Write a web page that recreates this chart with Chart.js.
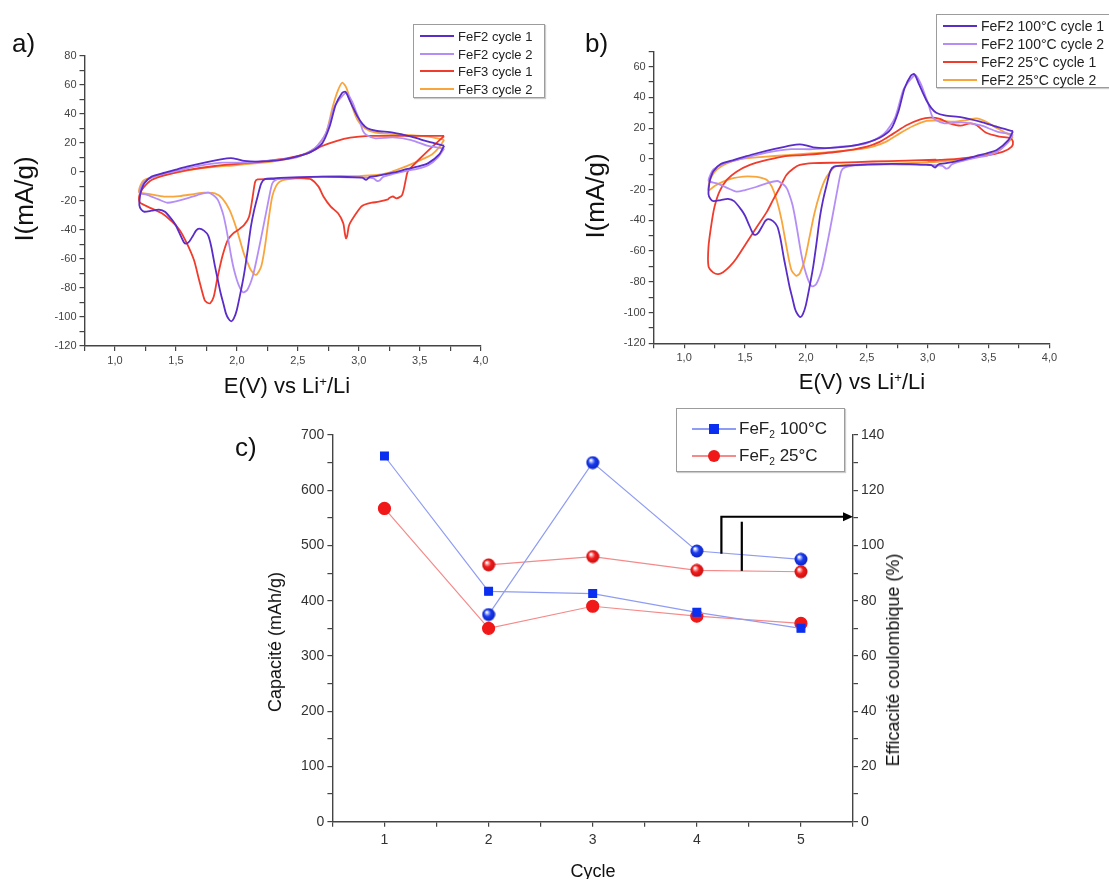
<!DOCTYPE html>
<html>
<head>
<meta charset="utf-8">
<script src="https://cdn.jsdelivr.net/npm/chart.js@4.4.0/dist/chart.umd.min.js"></script>
<style>
  body { margin: 0; background: #fff; font-family: "Liberation Sans", Arial, sans-serif; }
  #page { position: relative; width: 1109px; height: 879px; overflow: hidden; }
  canvas { position: absolute; }
  .txt { position: absolute; color: #111; white-space: nowrap; line-height: 1; }
  .mid { transform: translate(-50%, -50%); }
  .rot { transform: translate(-50%, -50%) rotate(-90deg); }
  .legend { position: absolute; border: 1px solid #9c9c9c; background: #fff; box-shadow: 1px 1px 1px #ccc; }
  .legend .ln { position: absolute; height: 2px; }
  .legend .tx { position: absolute; color: #222; white-space: nowrap; line-height: 1; transform: translateY(-50%); }
  sub { font-size: 0.6em; vertical-align: -0.35em; }
  sup { font-size: 0.6em; vertical-align: 0.6em; }
</style>
</head>
<body>
<div id="page">
  <canvas id="cvA" width="560" height="400" style="left:0;top:0"></canvas>
  <canvas id="cvB" width="549" height="400" style="left:560px;top:0"></canvas>
  <canvas id="capC" width="640" height="479" style="left:260px;top:400px"></canvas>

  <div class="txt" style="left:12px;top:30px;font-size:26px">a)</div>
  <div class="txt rot" style="left:24px;top:199px;font-size:26px">I(mA/g)</div>
  <div class="txt mid" style="left:287px;top:386px;font-size:22px">E(V) vs Li<sup>+</sup>/Li</div>

  <div class="txt" style="left:585px;top:30px;font-size:26px">b)</div>
  <div class="txt rot" style="left:595px;top:196px;font-size:26px">I(mA/g)</div>
  <div class="txt mid" style="left:862px;top:382px;font-size:22px">E(V) vs Li<sup>+</sup>/Li</div>

  <div class="txt" style="left:235px;top:434px;font-size:26px">c)</div>
  <div class="txt rot" style="left:275px;top:642px;font-size:18px">Capacité (mAh/g)</div>
  <div class="txt rot" style="left:893px;top:660px;font-size:18px">Efficacité coulombique (%)</div>
  <div class="txt mid" style="left:593px;top:871px;font-size:18px">Cycle</div>

  <div class="legend" id="legA" style="left:413px;top:24px;width:130px;height:72px"></div>
  <div class="legend" id="legB" style="left:936px;top:14px;width:176px;height:72px"></div>
  <div class="legend" style="left:676px;top:408px;width:167px;height:62px">
    <div class="ln" style="left:15px;top:19px;width:44px;background:#8f9cf3;height:1.5px"></div>
    <div style="position:absolute;left:32px;top:15px;width:10px;height:10px;background:#0b2ff0"></div>
    <div class="tx" style="left:62px;top:21px;font-size:17px">FeF<sub>2</sub> 100°C</div>
    <div class="ln" style="left:15px;top:46px;width:44px;background:#f58a8a;height:1.5px"></div>
    <div style="position:absolute;left:31px;top:41px;width:12px;height:12px;border-radius:50%;background:#f01818"></div>
    <div class="tx" style="left:62px;top:48px;font-size:17px">FeF<sub>2</sub> 25°C</div>
  </div>
</div>

<script>
// ----- data: cyclic voltammetry, pairs of [E (V), I (mA/g)] -----
const fef2Cycle1 = [
  [3.70, 18], [3.66, 12], [3.57, 6], [3.48, 3.5], [3.40, 2], [3.28, -0.6], [3.14, -3], [3.09, -3.5],
  [3.06, -5.6], [3.03, -4], [2.99, -3.8], [2.85, -3.4], [2.70, -3.3], [2.55, -3.6], [2.41, -4], [2.30, -4.5],
  [2.23, -5], [2.20, -8], [2.17, -17], [2.14, -27], [2.115, -37.8], [2.085, -56], [2.06, -70], [2.04, -79],
  [2.0, -95], [1.975, -101], [1.954, -103], [1.93, -101], [1.91, -97.5], [1.89, -91], [1.867, -83.7],
  [1.84, -73], [1.82, -65], [1.79, -51.6], [1.765, -44], [1.73, -40.5], [1.69, -39.2], [1.665, -40.5],
  [1.64, -44], [1.61, -48], [1.585, -49.5], [1.565, -48.5], [1.53, -42.4], [1.50, -37], [1.47, -33.2],
  [1.41, -27.5], [1.36, -26], [1.30, -26.8], [1.24, -27.5], [1.215, -26], [1.20, -23],
  [1.205, -17], [1.215, -13], [1.24, -8], [1.30, -3.3], [1.41, -0.6], [1.50, 1.5], [1.59, 3.5],
  [1.735, 6.3], [1.88, 8.8], [1.95, 9.4], [2.0, 8.8], [2.06, 7.5], [2.17, 7], [2.35, 8.1], [2.49, 10.4],
  [2.61, 13.9], [2.70, 19.6], [2.76, 31], [2.81, 46], [2.86, 54], [2.89, 55.2], [2.93, 48.3], [2.96, 43],
  [2.99, 38], [3.03, 33], [3.07, 30], [3.14, 28.3], [3.28, 27], [3.43, 24.2], [3.57, 20.8], [3.70, 18]
];
const fef2Cycle2 = [
  [3.70, 16], [3.65, 10], [3.57, 4.5], [3.48, 2], [3.40, 0.8], [3.28, -1.5], [3.20, -3.5], [3.17, -6],
  [3.15, -6.3], [3.12, -4.5], [3.05, -4], [2.90, -3.8], [2.70, -3.5], [2.50, -3.8], [2.40, -4.2],
  [2.32, -5.5], [2.29, -8], [2.26, -19.4], [2.217, -37.8], [2.173, -56], [2.13, -72], [2.085, -81.4],
  [2.05, -83], [2.025, -80], [2.0, -74.5], [1.975, -67], [1.954, -58.5], [1.93, -47], [1.91, -37.8],
  [1.89, -30], [1.867, -24], [1.845, -19.5], [1.82, -17], [1.765, -14.4], [1.677, -16], [1.59, -18.3],
  [1.50, -20.3], [1.43, -21.3], [1.356, -19], [1.27, -16], [1.21, -14.8], [1.20, -14],
  [1.216, -10.2], [1.24, -6.8], [1.33, -2.9], [1.47, 0], [1.677, 4], [1.88, 6.3], [2.056, 6.3],
  [2.26, 7.7], [2.49, 10], [2.64, 16.2], [2.73, 26.5], [2.80, 44.9], [2.86, 51.8], [2.90, 54.5],
  [2.946, 48.3], [2.98, 41], [3.005, 35.7], [3.035, 28], [3.063, 25.4], [3.136, 23.1], [3.28, 23.7],
  [3.43, 21.9], [3.57, 17.8], [3.70, 16]
];
const fef3Cycle1 = [
  [3.70, 24.7], [3.60, 17], [3.50, 9], [3.43, 3], [3.40, 0], [3.385, -5.6], [3.355, -16], [3.31, -18.3],
  [3.28, -17], [3.25, -18], [3.24, -19], [3.165, -20.6], [3.107, -21.3], [3.05, -22.5], [3.02, -24],
  [2.96, -30.9], [2.93, -35], [2.917, -37.8], [2.905, -44], [2.895, -45.8], [2.885, -42], [2.873, -35.5],
  [2.83, -28.6], [2.77, -24], [2.71, -17], [2.67, -10.2], [2.61, -5.2], [2.55, -4.5], [2.40, -4.5],
  [2.29, -5], [2.17, -5.2], [2.15, -6.8], [2.13, -17], [2.10, -30.9], [2.06, -36.6], [2.01, -40.1],
  [1.97, -42.4], [1.925, -47], [1.88, -58.5], [1.837, -74.5], [1.81, -86], [1.78, -90.6], [1.755, -90],
  [1.735, -88.3], [1.69, -74.5], [1.648, -60.8], [1.59, -49.3], [1.53, -40], [1.47, -34.4],
  [1.385, -28.6], [1.30, -25.2], [1.24, -22.9], [1.20, -20.6],
  [1.205, -14.8], [1.24, -10.2], [1.30, -5.6], [1.414, -2.2], [1.59, 1.2], [1.82, 4], [2.115, 6.3],
  [2.406, 9.3], [2.58, 12.7], [2.70, 17.8], [2.815, 21.2], [2.93, 23.5], [3.08, 24.7], [3.28, 24.7],
  [3.70, 24.7]
];
const fef3Cycle2 = [
  [3.70, 22], [3.66, 17], [3.60, 12], [3.45, 6], [3.35, 2.5], [3.25, -0.5], [3.15, -2.2], [3.0, -2.9],
  [2.70, -3.3], [2.41, -5.2], [2.35, -6.8], [2.32, -10], [2.29, -17], [2.26, -33], [2.23, -51.6],
  [2.20, -65], [2.158, -71], [2.115, -67.6], [2.085, -62], [2.056, -56], [2.0, -40], [1.94, -26.3],
  [1.88, -18.3], [1.82, -14.8], [1.735, -14.4], [1.648, -15.3], [1.53, -16.7], [1.414, -17.1],
  [1.33, -16], [1.24, -14.8], [1.20, -14.4],
  [1.205, -10.2], [1.24, -5.6], [1.33, -3.3], [1.47, -1.1], [1.70, 2.4], [2.0, 4.7], [2.29, 7],
  [2.49, 10.4], [2.64, 16.2], [2.73, 26.5], [2.786, 44.9], [2.83, 56.3], [2.865, 61.5], [2.90, 57.5],
  [2.946, 44.9], [2.99, 35.7], [3.05, 30], [3.136, 27], [3.28, 26], [3.43, 25.3], [3.57, 24.2], [3.70, 22]
];
const fef2RtCycle1 = [
  [3.07, -0.5], [2.83, -1.1], [2.55, -1.7], [2.28, -2.4], [2.06, -2.8], [1.95, -3.9], [1.90, -6.1],
  [1.84, -10.5], [1.79, -18], [1.73, -26.7], [1.68, -34.3], [1.59, -45.1], [1.51, -54.9], [1.43, -64.6],
  [1.375, -70], [1.32, -73.7], [1.28, -75], [1.24, -74], [1.20, -70],
  [1.20, -57], [1.225, -41.9], [1.25, -31], [1.29, -21.3], [1.35, -13.7], [1.43, -8.3], [1.54, -3.9],
  [1.68, -0.7], [1.81, 1.5], [2.0, 2.6], [2.28, 4.8], [2.50, 8], [2.61, 11.2], [2.72, 16.6], [2.83, 22],
  [2.94, 25.7], [3.02, 26.8], [3.10, 26], [3.18, 23.1], [3.27, 21.6], [3.35, 23.1], [3.40, 22],
  [3.48, 17], [3.59, 14.5], [3.68, 13.4], [3.70, 11.2], [3.69, 8], [3.62, 4.7], [3.51, 2.6],
  [3.37, 1.1], [3.24, 0], [3.10, -0.7], [3.0, -1.2]
];
const fef2RtCycle2 = [
  [3.70, 14.5], [3.68, 12.3], [3.59, 5.8], [3.48, 2.6], [3.32, 0.4], [3.10, -1.7], [2.83, -2.8],
  [2.55, -3.3], [2.33, -3.9], [2.24, -5], [2.20, -8.3], [2.156, -13.7], [2.115, -22.4], [2.07, -35.4],
  [2.03, -50.6], [1.99, -65.7], [1.95, -74.4], [1.92, -76.1], [1.88, -72.2], [1.84, -57], [1.80, -39.7],
  [1.76, -26.7], [1.72, -18], [1.68, -13.7], [1.62, -12], [1.567, -11.5], [1.485, -11.5], [1.403, -12.6],
  [1.32, -14.8], [1.25, -17.6], [1.20, -20.6],
  [1.205, -15.9], [1.225, -11.5], [1.27, -6.8], [1.35, -2.9], [1.46, -0.2], [1.62, 1.1], [1.87, 2.6],
  [2.14, 4.1], [2.42, 6.2], [2.55, 8], [2.66, 11.2], [2.77, 16.6], [2.88, 21.4], [2.99, 24.7],
  [3.10, 24.9], [3.21, 24.2], [3.32, 25.3], [3.40, 26.4], [3.48, 24.2], [3.57, 19.9], [3.65, 16.6],
  [3.70, 14.5]
];

// ----- data: cycling -----
const cycles = [1, 2, 3, 4, 5];
const capa100 = [662, 417, 413, 379, 350];
const capa25 = [567, 350, 390, 372, 359];
const effi100 = [null, 75, 130, 98, 95];
const effi25 = [null, 93, 96, 91, 90.5];

// annotation bracket (cycle, capacity units)
const arrowPath = [[4.236, 485], [4.236, 552], [5.5, 552]];
const markLine = [[4.432, 543], [4.432, 454]];

// legend labels
const legendA = ['FeF2 cycle 1', 'FeF2 cycle 2', 'FeF3 cycle 1', 'FeF3 cycle 2'];
const legendB = ['FeF2 100°C cycle 1', 'FeF2 100°C cycle 2', 'FeF2 25°C cycle 1', 'FeF2 25°C cycle 2'];
const cvColors = ['#5a2cc8', '#b48ef6', '#f03c2c', '#f8a53c'];

Chart.defaults.font.family = '"Liberation Sans", Arial, sans-serif';
Chart.defaults.animation = false;

const xy = pairs => pairs.map(p => ({ x: p[0], y: p[1] }));
const isMult = (v, m) => Math.abs(v / m - Math.round(v / m)) < 1e-6;

function buildLegend(id, labels, rowTops, fontSize) {
  const box = document.getElementById(id);
  labels.forEach((t, i) => {
    const ln = document.createElement('div');
    ln.className = 'ln';
    ln.style.cssText = `left:6px;top:${rowTops[i] - 1}px;width:34px;background:${cvColors[i]}`;
    box.appendChild(ln);
    const tx = document.createElement('div');
    tx.className = 'tx';
    tx.style.cssText = `left:44px;top:${rowTops[i]}px;font-size:${fontSize}px`;
    tx.textContent = t;
    box.appendChild(tx);
  });
}
buildLegend('legA', legendA, [11, 28.5, 46, 63.5], 13);
buildLegend('legB', legendB, [11, 28.7, 46.7, 64.7], 14);

function axisBase(extra) {
  return Object.assign({
    type: 'linear',
    grid: { drawOnChartArea: false, tickLength: 5, color: '#444', lineWidth: 1.2 },
    border: { color: '#444', width: 1.4 }
  }, extra);
}

function cvChart(id, curves, yMax, pad) {
  const ctx = document.getElementById(id).getContext('2d');
  return new Chart(ctx, {
    type: 'line',
    data: {
      datasets: curves.map((c, i) => ({
        data: xy(c),
        borderColor: cvColors[i],
        borderWidth: 1.8,
        pointRadius: 0,
        tension: 0.25,
        fill: false
      }))
    },
    options: {
      responsive: false,
      layout: { padding: pad },
      plugins: { legend: { display: false }, tooltip: { enabled: false } },
      scales: {
        x: axisBase({
          min: 0.75, max: 4.0,
          ticks: {
            stepSize: 0.25, autoSkip: false, maxRotation: 0, padding: 3,
            color: '#444', font: { size: 11 },
            callback: v => isMult(v, 0.5) ? v.toFixed(1).replace('.', ',') : ''
          },
          afterFit: s => { s.height = 22; }
        }),
        y: axisBase({
          min: -120, max: yMax,
          ticks: {
            stepSize: 10, autoSkip: false, padding: 3,
            color: '#444', font: { size: 11 },
            callback: v => isMult(v, 20) ? String(v) : ''
          },
          afterFit: s => { s.width = 50; }
        })
      }
    }
  });
}

cvChart('cvA', [fef2Cycle1, fef2Cycle2, fef3Cycle1, fef3Cycle2], 80,
  { left: 34.5, right: 79.3, top: 55.7, bottom: 32 });
cvChart('cvB', [fef2Cycle1, fef2Cycle2, fef2RtCycle1, fef2RtCycle2], 70,
  { left: 43.7, right: 59.5, top: 51.3, bottom: 34.7 });

// shaded ball markers for the efficiency points
function makeBall(light, base, dark) {
  const c = document.createElement('canvas');
  c.width = c.height = 14;
  const g = c.getContext('2d');
  const grad = g.createRadialGradient(5, 4.5, 0.5, 7, 7, 7);
  grad.addColorStop(0, light);
  grad.addColorStop(0.45, base);
  grad.addColorStop(1, dark);
  g.fillStyle = grad;
  g.beginPath();
  g.arc(7, 7, 6.5, 0, Math.PI * 2);
  g.fill();
  return c;
}
const ballBlue = makeBall('#ffffff', '#1a3cf2', '#0a1fb8');
const ballRed = makeBall('#ffffff', '#f21c1c', '#c40c0c');

const bracketPlugin = {
  id: 'bracket',
  afterDatasetsDraw(chart) {
    const { ctx, scales: { x, y } } = chart;
    const px = p => [x.getPixelForValue(p[0]), y.getPixelForValue(p[1])];
    ctx.save();
    ctx.strokeStyle = '#000';
    ctx.fillStyle = '#000';
    ctx.lineWidth = 2.2;
    ctx.beginPath();
    arrowPath.forEach((p, i) => {
      const [a, b] = px(p);
      if (i === 0) ctx.moveTo(a, b); else ctx.lineTo(a - (i === arrowPath.length - 1 ? 6 : 0), b);
    });
    ctx.stroke();
    const [tx, ty] = px(arrowPath[arrowPath.length - 1]);
    ctx.beginPath();
    ctx.moveTo(tx, ty);
    ctx.lineTo(tx - 10, ty - 4.5);
    ctx.lineTo(tx - 10, ty + 4.5);
    ctx.closePath();
    ctx.fill();
    ctx.beginPath();
    const [m1x, m1y] = px(markLine[0]);
    const [m2x, m2y] = px(markLine[1]);
    ctx.moveTo(m1x, m1y);
    ctx.lineTo(m2x, m2y);
    ctx.stroke();
    ctx.restore();
  }
};

const pts = vals => cycles.map((c, i) => ({ x: c, y: vals[i] }));

new Chart(document.getElementById('capC').getContext('2d'), {
  type: 'line',
  data: {
    datasets: [
      { data: pts(capa100), yAxisID: 'y', borderColor: '#8f9cf3', borderWidth: 1.2,
        pointStyle: 'rect', pointRadius: 5.5, pointBackgroundColor: '#0b2ff0', pointBorderColor: '#0b2ff0' },
      { data: pts(capa25), yAxisID: 'y', borderColor: '#f58a8a', borderWidth: 1.2,
        pointStyle: 'circle', pointRadius: 6, pointBackgroundColor: '#f01818', pointBorderColor: '#f01818' },
      { data: pts(effi100), yAxisID: 'y1', borderColor: '#8f9cf3', borderWidth: 1.2, pointStyle: ballBlue },
      { data: pts(effi25), yAxisID: 'y1', borderColor: '#f58a8a', borderWidth: 1.2, pointStyle: ballRed }
    ]
  },
  options: {
    responsive: false,
    layout: { padding: { left: 32.4, right: 7, top: 35, bottom: 32.3 } },
    plugins: { legend: { display: false }, tooltip: { enabled: false } },
    scales: {
      x: axisBase({
        min: 0.5, max: 5.5,
        ticks: {
          stepSize: 0.5, autoSkip: false, maxRotation: 0, padding: 5,
          color: '#333', font: { size: 14 },
          callback: v => isMult(v, 1) ? String(v) : ''
        },
        afterFit: s => { s.height = 25; }
      }),
      y: axisBase({
        position: 'left', min: 0, max: 700,
        ticks: {
          stepSize: 50, autoSkip: false, padding: 3,
          color: '#333', font: { size: 14 },
          callback: v => isMult(v, 100) ? String(v) : ''
        },
        afterFit: s => { s.width = 40; }
      }),
      y1: axisBase({
        position: 'right', min: 0, max: 140,
        ticks: {
          stepSize: 10, autoSkip: false, padding: 3,
          color: '#333', font: { size: 14 },
          callback: v => isMult(v, 20) ? String(v) : ''
        },
        afterFit: s => { s.width = 40; }
      })
    }
  },
  plugins: [bracketPlugin]
});
</script>
</body>
</html>
